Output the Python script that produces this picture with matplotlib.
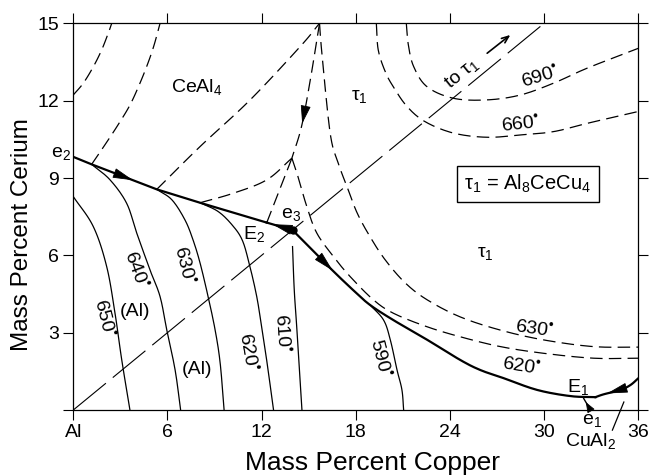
import numpy as np
import matplotlib.pyplot as plt

plt.rcParams['font.family'] = ['Liberation Sans', 'DejaVu Sans']
plt.rcParams['mathtext.fontset'] = 'custom'
plt.rcParams['mathtext.rm'] = 'Liberation Sans'
plt.rcParams['mathtext.it'] = 'Liberation Sans:italic'
plt.rcParams['mathtext.bf'] = 'Liberation Sans:bold'

# --- monovariant valleys (heavy solid) ---
e2_E2_x = [0, 1.17, 5.32, 8.08, 12.33]
e2_E2_y = [9.82, 9.53, 8.56, 8.04, 7.27]
e3_E2_x = [13.97, 12.33]
e3_E2_y = [6.98, 7.27]
e3_E1_x = [13.97, 15.10, 16.56, 17.96, 18.92, 20.39, 22.56, 24.66, 25.94, 27.40, 29.55, 31.68, 33.27]
e3_E1_y = [6.98, 6.29, 5.39, 4.58, 4.07, 3.49, 2.72, 1.94, 1.55, 1.24, 0.78, 0.54, 0.50]
cual2_x = [36.0, 35.5, 34.87, 33.8, 33.27]
cual2_y = [1.23, 0.97, 0.78, 0.61, 0.50]
e1_x = [32.95, 32.52]
e1_y = [0.0, 0.45]
e3_point = (13.97, 6.98)

# --- (Al) liquidus isotherms (thin solid) ---
iso650_x = [0, 1.28, 2.13, 2.66, 3.09, 3.61]
iso650_y = [8.28, 7.11, 5.56, 3.75, 1.94, 0]
iso640_x = [1.17, 2.34, 3.40, 4.04, 4.89, 5.53, 5.96, 6.49, 6.84]
iso640_y = [9.53, 8.93, 8.02, 6.87, 5.43, 4.40, 3.10, 1.55, 0]
iso630_x = [5.32, 6.29, 7.12, 7.63, 8.08, 8.59, 9.04, 9.36, 9.61]
iso630_y = [8.56, 8.15, 7.37, 6.60, 5.70, 4.40, 3.10, 1.82, 0]
iso620_x = [8.08, 9.23, 10.12, 10.76, 11.20, 11.69, 12.03, 12.35, 12.76]
iso620_y = [8.04, 7.70, 7.18, 6.60, 5.70, 4.40, 3.10, 1.82, 0]
iso610_x = [13.97, 14.08, 14.25, 14.57]
iso610_y = [6.34, 4.66, 3.10, 0]
iso590_x = [18.92, 19.77, 20.20, 20.63, 20.94, 21.05]
iso590_y = [4.07, 3.49, 2.72, 1.55, 0.78, 0]

# --- CeAl4 field (dashed) ---
cea_a_x = [0, 0.64, 1.28, 1.81, 2.23, 2.45]
cea_a_y = [12.22, 12.68, 13.32, 13.97, 14.62, 15.0]
cea_b_x = [1.17, 2.02, 2.85, 3.62, 4.25, 4.76, 5.15, 5.53]
cea_b_y = [9.53, 10.29, 11.06, 11.84, 12.68, 13.46, 14.16, 15.0]
cea_c_x = [5.32, 8.08, 11.27, 14.46, 15.69]
cea_c_y = [8.56, 10.22, 12.03, 14.10, 15.0]
cea_d_x = [8.08, 10.20, 12.33, 13.93]
cea_d_y = [8.04, 8.41, 8.93, 9.77]
E2_P_x = [12.33, 13.93]
E2_P_y = [7.27, 9.77]
T_P_x = [15.69, 15.10, 14.54, 13.93]
T_P_y = [15.0, 12.80, 10.99, 9.77]

# --- tau1 field isotherms (dashed) ---
tau630_x = [15.69, 15.84, 16.37, 16.88, 17.45, 18.09, 18.92, 19.88, 21.15, 22.56,
            24.66, 27.21, 29.96, 33.14, 36.0]
tau630_y = [15.0, 13.84, 10.73, 9.58, 8.65, 7.64, 6.71, 5.82, 4.93, 4.27,
            3.61, 3.10, 2.72, 2.46, 2.44]
tau620_x = [13.93, 14.25, 14.88, 15.52, 16.58, 17.65, 19.13, 20.41, 22.54, 24.66,
            27.21, 29.97, 33.16, 36.0]
tau620_y = [9.77, 9.19, 7.89, 6.86, 5.95, 5.17, 4.27, 3.75, 3.23, 2.84,
            2.46, 2.20, 2.01, 2.01]
tau660_x = [19.31, 19.43, 19.88, 20.39, 21.27, 22.43, 24.24, 26.37, 28.48, 30.61, 32.74, 36.0]
tau660_y = [15.0, 13.97, 13.12, 12.54, 11.77, 11.18, 10.74, 10.58, 10.67, 10.80, 11.12, 11.58]
tau690_x = [21.22, 21.35, 21.69, 22.54, 24.24, 26.37, 28.49, 30.61, 32.74, 36.0]
tau690_y = [15.0, 14.16, 13.32, 12.54, 12.09, 12.03, 12.22, 12.68, 13.26, 14.03]

# Al -> tau1 composition line
comp_x = [0, 30]
comp_y = [0, 15]

x_ticks = [0, 6, 12, 18, 24, 30, 36]
x_ticklabels = ['Al', '6', '12', '18', '24', '30', '36']
y_ticks = [0, 3, 6, 9, 12, 15]
y_ticklabels = ['', '3', '6', '9', '12', '15']

# raised dot used as the degree mark
DEG = r'$^{•}$'


def smooth(xs, ys, n=16):
    """Catmull-Rom spline through the given points."""
    p = np.column_stack([xs, ys]).astype(float)
    if len(p) < 3:
        return p[:, 0], p[:, 1]
    p = np.vstack([2 * p[0] - p[1], p, 2 * p[-1] - p[-2]])
    out = []
    t = np.linspace(0, 1, n, endpoint=False)[:, None]
    for i in range(1, len(p) - 2):
        p0, p1, p2, p3 = p[i - 1], p[i], p[i + 1], p[i + 2]
        out.append(0.5 * (2 * p1 + (-p0 + p2) * t
                          + (2 * p0 - 5 * p1 + 4 * p2 - p3) * t ** 2
                          + (-p0 + 3 * p1 - 3 * p2 + p3) * t ** 3))
    out.append(p[-2][None])
    c = np.vstack(out)
    return c[:, 0], c[:, 1]


def head(ax, xs, ys, frac, size=18, hw=0.32):
    """Filled arrowhead sitting on a curve, pointing along its direction."""
    pts = ax.transData.transform(np.column_stack([xs, ys]))
    d = np.r_[0, np.cumsum(np.hypot(*np.diff(pts, axis=0).T))]
    s = frac * d[-1]
    tip = [np.interp(s + size / 2, d, pts[:, 0]), np.interp(s + size / 2, d, pts[:, 1])]
    tail = [np.interp(s - size / 2, d, pts[:, 0]), np.interp(s - size / 2, d, pts[:, 1])]
    inv = ax.transData.inverted()
    ax.annotate('', xy=inv.transform(tip), xytext=inv.transform(tail),
                arrowprops=dict(arrowstyle='-|>,head_length=%.2f,head_width=%.2f'
                                % (size / 1.389 / 10, hw),
                                mutation_scale=10, color='black', lw=0.6,
                                shrinkA=0, shrinkB=0))


fig = plt.figure(figsize=(6.49, 4.75), dpi=100)
ax = fig.add_axes([0.1129, 0.1368, 0.8706, 0.8141])
ax.set_xlim(0, 36)
ax.set_ylim(0, 15)

dash = dict(color='black', lw=0.9, dashes=(10, 5))
thin = dict(color='black', lw=0.9)
heavy = dict(color='black', lw=1.6)

# composition line
ax.plot(comp_x, comp_y, color='black', lw=0.8, dashes=(38, 8))

# dashed isotherms and boundaries
for xs, ys in [(cea_a_x, cea_a_y), (cea_b_x, cea_b_y), (cea_c_x, cea_c_y),
               (cea_d_x, cea_d_y), (E2_P_x, E2_P_y), (T_P_x, T_P_y),
               (tau630_x, tau630_y), (tau620_x, tau620_y),
               (tau660_x, tau660_y), (tau690_x, tau690_y)]:
    ax.plot(*smooth(xs, ys), **dash)

# solid isotherms in the (Al) field
for xs, ys in [(iso650_x, iso650_y), (iso640_x, iso640_y), (iso630_x, iso630_y),
               (iso620_x, iso620_y), (iso610_x, iso610_y), (iso590_x, iso590_y)]:
    ax.plot(*smooth(xs, ys), **thin)

# valleys
ax.plot(e2_E2_x, e2_E2_y, **heavy)
ax.plot(e3_E2_x, e3_E2_y, **heavy)
v_x, v_y = smooth(e3_E1_x, e3_E1_y)
ax.plot(v_x, v_y, **heavy)
c_x, c_y = smooth(cual2_x, cual2_y)
ax.plot(c_x, c_y, **heavy)
ax.plot(e1_x, e1_y, color='black', lw=1.0)
ax.plot(*e3_point, 'o', color='black', ms=5)

# arrowheads along the valleys
head(ax, e2_E2_x, e2_E2_y, 0.27)
head(ax, e3_E2_x, e3_E2_y, 0.45)
head(ax, v_x, v_y, 0.135)
head(ax, c_x, c_y, 0.55)
head(ax, *smooth(T_P_x, T_P_y), 0.68, size=16)
head(ax, e1_x, e1_y, 0.35, size=9, hw=0.25)

# labels
fs = 14
ax.text(7.84, 12.53, r'CeAl$_4$', fontsize=fs, ha='center', va='center')
ax.text(18.22, 12.15, r'τ$_1$', fontsize=fs, ha='center', va='center')
ax.text(26.26, 6.09, r'τ$_1$', fontsize=fs, ha='center', va='center')
ax.text(3.94, 3.84, '(Al)', fontsize=fs, ha='center', va='center')
ax.text(7.88, 1.59, '(Al)', fontsize=fs, ha='center', va='center')
ax.text(-0.78, 9.95, r'e$_2$', fontsize=fs, ha='center', va='center')
ax.text(13.88, 7.57, r'e$_3$', fontsize=fs, ha='center', va='center')
ax.text(11.52, 6.83, r'E$_2$', fontsize=fs, ha='center', va='center')
ax.text(32.19, 0.89, r'E$_1$', fontsize=fs, ha='center', va='center')
ax.text(33.02, -0.42, r'e$_1$', fontsize=fs, ha='center', va='center')
ax.text(32.95, -1.22, r'CuAl$_2$', fontsize=fs, ha='center', va='center')
ax.plot([35.08, 34.35], [0.31, -0.78], color='black', lw=0.9, clip_on=False)

temp_labels = [
    (1.96, 3.57, '650', -76), (4.0, 5.43, '640', -70), (7.12, 5.63, '630', -76),
    (11.14, 2.25, '620', -80), (13.31, 2.99, '610', -86), (19.55, 2.02, '590', -76),
    (29.38, 3.14, '630', -8), (28.55, 1.71, '620', -9),
    (29.76, 12.92, '690', 17), (28.48, 11.10, '660', 6),
]
for x, y, t, r in temp_labels:
    ax.text(x, y, t + DEG, fontsize=fs, ha='center', va='center', rotation=r,
            rotation_mode='anchor')

ax.text(24.79, 13.04, r'to τ$_1$', fontsize=fs, ha='center', va='center',
        rotation=39, rotation_mode='anchor')
ax.annotate('', xy=(27.85, 14.55), xytext=(26.37, 13.84),
            arrowprops=dict(arrowstyle='->,head_length=0.5,head_width=0.2',
                            color='black', lw=1.2, shrinkA=0, shrinkB=0))

ax.text(28.97, 8.77, r'τ$_1$ = Al$_8$CeCu$_4$', fontsize=14.5, ha='center', va='center',
        bbox=dict(boxstyle='square,pad=0.35', fc='white', ec='black', lw=1.0))

ax.set_xticks(x_ticks)
ax.set_xticklabels(x_ticklabels)
ax.set_yticks(y_ticks)
ax.set_yticklabels(y_ticklabels)
ax.tick_params(direction='out', length=7.2, width=0.8, top=True, right=True,
               labelsize=14, pad=3)
for sp in ax.spines.values():
    sp.set_linewidth(0.9)

ax.set_xlabel('Mass Percent Copper', fontsize=19)
ax.set_ylabel('Mass Percent Cerium', fontsize=17.5)
ax.xaxis.set_label_coords(0.53, -0.105)
ax.yaxis.set_label_coords(-0.072, 0.455)

fig.savefig('out.png', dpi=100, facecolor='white')
